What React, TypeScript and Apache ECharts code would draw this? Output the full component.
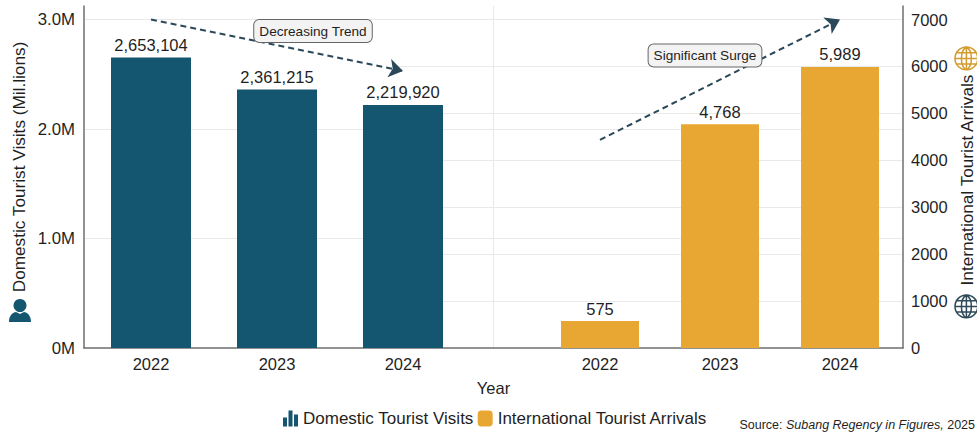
import React, { useEffect, useRef } from "react";
import * as echarts from "echarts";

// Tourism figures for Subang Regency, 2022-2024
const years = ["2022", "2023", "2024"];
const domesticVisits = [2653104, 2361215, 2219920];
const internationalArrivals = [575, 4768, 5989];

const domesticTicks = 1000000;
const internationalTicks = 1000;
// Both value axes run a little past their last tick so the spines rise above it
const domesticMax = 3123300;
const internationalMax = 7287.7;

// Trend arrows, as [year index, axis value]
const decreasingTrend = [[0, 3000000], [2, 2530000]];
const surgeTrend = [[0, 4435], [2, 7000]];

const NAVY = "#14566F";
const GOLD = "#E8A733";
const INK = "#1F1F1F";
const SPINE = "#6F6F6F";
const GRID_LINE = "#E9E9E9";
const ARROW = "#2A4859";
const FONT = '"Liberation Sans", Arial, sans-serif';

const GLOBE_PATH =
  "M0 12A12 12 0 1 1 24 12A12 12 0 1 1 0 12Z M12 0V24 M12 0C5 4 5 20 12 24 M12 0C19 4 19 20 12 24 M0 12H24 M2 6H22 M2 18H22";
const PERSON_PATH =
  "M11 0A6.5 6.5 0 1 1 10.99 0Z M0 23C0 16 4 13.5 7 13L11 15L15 13C18 13.5 22 16 22 23Z";

echarts.graphic.registerShape("globeIcon", echarts.graphic.extendPath(GLOBE_PATH, {}));
echarts.graphic.registerShape("personIcon", echarts.graphic.extendPath(PERSON_PATH, {}));

const TOP = 6;
const HEIGHT = 342;

function trendLine(points: number[][]) {
  return {
    silent: true,
    symbol: ["none", "arrow"],
    symbolSize: 14,
    label: { show: false },
    lineStyle: { color: ARROW, type: [6, 4], width: 2, opacity: 1 },
    data: [[{ coord: points[0] }, { coord: points[1] }]],
  };
}

function calloutBox(x: number, y: number, text: string) {
  return {
    type: "text",
    x,
    y,
    z: 20,
    style: {
      text,
      font: `13.6px ${FONT}`,
      fill: INK,
      backgroundColor: "#F3F3F3",
      borderColor: "#666666",
      borderWidth: 1,
      borderRadius: 5,
      padding: [4, 5, 4, 5],
      align: "center",
      verticalAlign: "middle",
    },
  };
}

function axisTitle(x: number, y: number, text: string) {
  return {
    type: "text",
    x,
    y,
    rotation: Math.PI / 2,
    style: { text, font: `17.2px ${FONT}`, fill: INK, align: "center", verticalAlign: "middle" },
  };
}

function hiddenCategoryAxis(gridIndex: number) {
  return { type: "category", gridIndex, data: years, show: false };
}

function yearAxis(gridIndex: number) {
  return {
    type: "category",
    gridIndex,
    data: years,
    axisLine: { show: false },
    axisTick: { show: false },
    axisLabel: { color: INK, fontSize: 16.5, fontFamily: FONT, margin: 7 },
  };
}

const barLabel = {
  show: true,
  position: "top",
  distance: 4,
  color: INK,
  fontSize: 16.5,
  fontFamily: FONT,
  formatter: (p: any) => Number(p.value).toLocaleString("en-US"),
};

export default function App() {
  const ref = useRef<HTMLDivElement>(null);

  useEffect(() => {
    document.body.style.margin = "0";
    const chart = echarts.init(ref.current!, null, { renderer: "svg" });
    chart.setOption({
      animation: false,
      backgroundColor: "#FFFFFF",
      grid: [
        { left: 84, width: 819, top: TOP, height: HEIGHT },
        { left: 393, width: 510, top: TOP, height: HEIGHT },
        { left: 88, width: 378, top: TOP, height: HEIGHT },
        { left: 540, width: 360, top: TOP, height: HEIGHT },
      ],
      xAxis: [
        {
          type: "category",
          gridIndex: 0,
          data: ["Domestic", "International"],
          axisLine: { lineStyle: { color: SPINE, width: 1.5 } },
          axisTick: { show: false },
          axisLabel: { show: false },
          splitLine: {
            show: true,
            showMinLine: false,
            showMaxLine: false,
            lineStyle: { color: GRID_LINE, width: 1 },
          },
          name: "Year",
          nameLocation: "middle",
          nameGap: 31,
          nameTextStyle: { color: INK, fontSize: 16.5, fontFamily: FONT },
        },
        hiddenCategoryAxis(1),
        yearAxis(2),
        yearAxis(3),
      ],
      yAxis: [
        {
          type: "value",
          gridIndex: 0,
          min: 0,
          max: domesticMax,
          interval: domesticTicks,
          axisLine: { show: true, lineStyle: { color: SPINE, width: 1.5 } },
          axisTick: { show: false },
          axisLabel: {
            color: INK,
            fontSize: 16.8,
            fontFamily: FONT,
            margin: 9,
            showMaxLabel: false,
            formatter: (v: number) => (v === 0 ? "0M" : `${(v / 1000000).toFixed(1)}M`),
          },
          splitLine: { show: true, showMinLine: false, showMaxLine: false, lineStyle: { color: GRID_LINE, width: 1 } },
        },
        {
          type: "value",
          gridIndex: 1,
          position: "right",
          min: 0,
          max: internationalMax,
          interval: internationalTicks,
          axisLine: { show: true, lineStyle: { color: SPINE, width: 1.5 } },
          axisTick: { show: false },
          axisLabel: {
            color: INK,
            fontSize: 16.5,
            fontFamily: FONT,
            margin: 8,
            showMaxLabel: false,
            formatter: (v: number) => String(v),
          },
          splitLine: { show: true, showMinLine: false, showMaxLine: false, lineStyle: { color: GRID_LINE, width: 1 } },
        },
        { type: "value", gridIndex: 2, min: 0, max: domesticMax, show: false, splitLine: { show: false } },
        { type: "value", gridIndex: 3, min: 0, max: internationalMax, show: false, splitLine: { show: false } },
      ],
      legend: {
        left: 283,
        top: 410,
        padding: 0,
        itemWidth: 15,
        itemHeight: 16,
        itemGap: 4,
        textStyle: { color: INK, fontSize: 17, fontFamily: FONT },
        data: [
          { name: "Domestic Tourist Visits", icon: "path://M0 7h4v9H0z M5.5 0h4v16h-4z M11 4h4v12h-4z" },
          { name: "International Tourist Arrivals", icon: "roundRect" },
        ],
      },
      series: [
        {
          name: "Domestic Tourist Visits",
          type: "bar",
          xAxisIndex: 2,
          yAxisIndex: 2,
          data: domesticVisits,
          barWidth: 80,
          itemStyle: { color: NAVY },
          label: barLabel,
          markLine: trendLine(decreasingTrend),
        },
        {
          name: "International Tourist Arrivals",
          type: "bar",
          xAxisIndex: 3,
          yAxisIndex: 3,
          data: internationalArrivals,
          barWidth: 78,
          itemStyle: { color: GOLD },
          label: barLabel,
          markLine: trendLine(surgeTrend),
        },
      ],
      graphic: [
        axisTitle(19, 167, "Domestic Tourist Visits (Mil.lions)"),
        axisTitle(967, 180, "International Tourist Arrivals"),
        calloutBox(313, 31, "Decreasing Trend"),
        calloutBox(705, 55.5, "Significant Surge"),
        { type: "personIcon", x: 9, y: 299, style: { fill: NAVY } },
        {
          type: "globeIcon",
          x: 955,
          y: 47,
          scaleX: 0.95,
          scaleY: 0.95,
          style: { fill: "none", stroke: "#D39C30", lineWidth: 1.6 },
        },
        {
          type: "globeIcon",
          x: 955,
          y: 295,
          scaleX: 0.95,
          scaleY: 0.95,
          style: { fill: "none", stroke: "#2E4A5B", lineWidth: 1.6 },
        },
        {
          type: "text",
          right: 2,
          top: 418,
          style: {
            text: "Source: {i|Subang Regency in Figures,} 2025",
            font: `12.5px ${FONT}`,
            fill: INK,
            rich: { i: { font: `italic 12.5px ${FONT}`, fill: INK } },
          },
        },
      ],
    });
    return () => chart.dispose();
  }, []);

  return <div ref={ref} style={{ width: 977, height: 432 }} />;
}
